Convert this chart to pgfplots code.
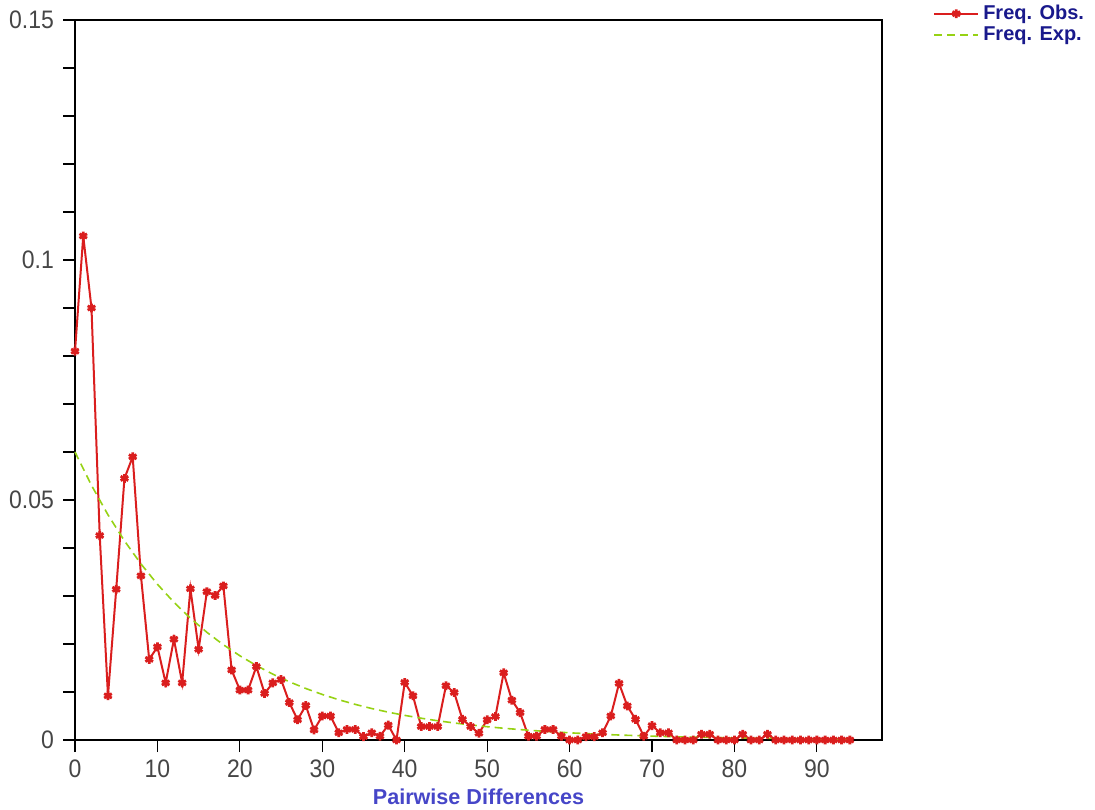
\documentclass[border=0pt]{standalone}
\usepackage{pgfplots}
\pgfplotsset{compat=1.18}
\usepackage{fontspec}
\setmainfont{Liberation Sans}
\definecolor{obs}{RGB}{218,30,30}
\definecolor{expc}{RGB}{150,210,20}
\definecolor{ticklab}{RGB}{70,70,70}
\definecolor{xlab}{RGB}{70,70,200}
\definecolor{legtext}{RGB}{25,25,140}
\begin{document}
\begin{tikzpicture}
\path[use as bounding box] (-37.5pt,-34.5pt) rectangle (510pt,370pt);
\begin{axis}[
  at={(0,0)}, anchor=south west,
  width=403.5pt, height=360pt, scale only axis,
  xmin=0, xmax=97.9, ymin=0, ymax=0.15,
  clip=false,
  tick pos=left, tick align=outside,
  xtick={0,10,...,90},
  ytick={0,0.05,0.1,0.15},
  yticklabels={0,0.05,0.1,0.15},
  minor y tick num=4,
  major tick length=6pt, minor tick length=6pt,
  tick style={black, line width=0.6pt},
  axis line style={black, line width=0.8pt},
  /pgf/number format/assume math mode=true,
  tick label style={font=\fontsize{11.5}{13}\selectfont, text=ticklab, yscale=1.1},
  yticklabel style={xshift=-1pt},
  xlabel={Pairwise Differences},
  xlabel style={font=\bfseries\fontsize{10.8}{12}\selectfont, text=xlab, at={(axis description cs:0.5,0)}, anchor=center, yshift=-28.5pt},
  legend style={at={(axis description cs:1.063,1.027)}, anchor=north west, draw=none, fill=none, inner sep=0pt,
    font=\bfseries\fontsize{10}{10}\selectfont, text=legtext, row sep=-2pt, cells={anchor=west}},
  legend image code/.code={\draw[mark repeat=2,mark phase=2,#1] plot coordinates {(0pt,0pt) (11pt,0pt) (22pt,0pt)};},
]
\addplot[obs, line width=1pt, mark=asterisk, mark size=2.2pt, mark options={line width=1.4pt, solid}] coordinates {
(0,0.081) (1,0.105) (2,0.090) (3,0.0426) (4,0.0092) (5,0.0314) (6,0.0545) (7,0.059) (8,0.0342) (9,0.0168)
(10,0.0194) (11,0.0119) (12,0.021) (13,0.0119) (14,0.0315) (15,0.0189) (16,0.0309) (17,0.0301) (18,0.0321) (19,0.0146)
(20,0.0104) (21,0.0104) (22,0.0153) (23,0.0097) (24,0.0119) (25,0.0126) (26,0.0078) (27,0.0042) (28,0.0072) (29,0.0021)
(30,0.005) (31,0.005) (32,0.0015) (33,0.0022) (34,0.0022) (35,0.0007) (36,0.0015) (37,0.0008) (38,0.0031) (39,0)
(40,0.012) (41,0.0092) (42,0.0028) (43,0.0028) (44,0.0028) (45,0.0113) (46,0.0099) (47,0.0043) (48,0.0028) (49,0.0014)
(50,0.0042) (51,0.0049) (52,0.014) (53,0.0083) (54,0.0057) (55,0.0008) (56,0.0008) (57,0.0022) (58,0.0022) (59,0.0008)
(60,0) (61,0) (62,0.0007) (63,0.0007) (64,0.0015) (65,0.005) (66,0.0118) (67,0.0071) (68,0.0043) (69,0.0008)
(70,0.003) (71,0.0015) (72,0.0015) (73,0) (74,0) (75,0) (76,0.0012) (77,0.0012) (78,0) (79,0)
(80,0) (81,0.0012) (82,0) (83,0) (84,0.0012) (85,0) (86,0) (87,0) (88,0) (89,0)
(90,0) (91,0) (92,0) (93,0) (94,0)
};
\addlegendentry{Freq. Obs.}
\addplot[expc, line width=0.8pt, dash pattern=on 4pt off 2.5pt] coordinates {
(0,0.0600) (2,0.05306) (4,0.04692) (6,0.04149) (8,0.03669) (10,0.03245) (12,0.02869) (14,0.02537) (16,0.02244) (18,0.01984)
(20,0.01755) (22,0.01552) (24,0.01372) (26,0.01213) (28,0.01073) (30,0.00949) (32,0.00839) (34,0.00742) (36,0.00656) (38,0.00580)
(40,0.00513) (42,0.00454) (44,0.00401) (46,0.00355) (48,0.00314) (50,0.00277) (52,0.00245) (54,0.00217) (56,0.00192) (58,0.00170)
(60,0.00150) (62,0.00133) (64,0.00117) (66,0.00104) (68,0.00092) (70,0.00081) (72,0.00072) (74,0.00063) (76,0.00056) (78,0.00050)
(80,0.00044) (82,0.00039) (84,0.00034) (86,0.00030) (88,0.00027) (90,0.00024) (92,0.00021) (94,0.00018)
};
\addlegendentry{Freq. Exp.}
\end{axis}
\end{tikzpicture}
\end{document}
